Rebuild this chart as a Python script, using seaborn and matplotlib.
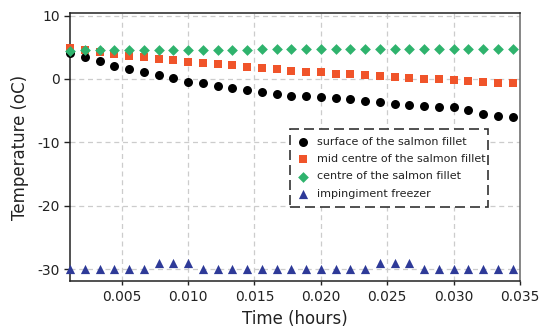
import numpy as np
import pandas as pd
import matplotlib
matplotlib.use("Agg")
import matplotlib.pyplot as plt
from matplotlib.patches import Rectangle
import seaborn as sns

# Sampling every 4 s, expressed in hours
time_h = [n * 4 / 3600 for n in range(1, 32)]

surface = [4.1, 3.4, 2.8, 2.05, 1.6, 1.1, 0.6, 0.1, -0.4, -0.7, -1.1, -1.4,
           -1.7, -2.05, -2.4, -2.7, -2.7, -2.9, -3.05, -3.2, -3.4, -3.7,
           -3.95, -4.1, -4.25, -4.4, -4.4, -4.9, -5.6, -5.85, -6.0]
mid_centre = [4.9, 4.6, 4.3, 4.0, 3.6, 3.5, 3.15, 2.95, 2.7, 2.5, 2.3, 2.15,
              1.95, 1.7, 1.5, 1.3, 1.15, 1.05, 0.85, 0.8, 0.65, 0.5, 0.3,
              0.1, 0.0, 0.0, -0.15, -0.3, -0.5, -0.7, -0.65]
centre = [4.4, 4.55, 4.6, 4.6, 4.6, 4.6, 4.6, 4.6, 4.6, 4.6, 4.6, 4.6, 4.6,
          4.75, 4.8, 4.8, 4.8, 4.8, 4.8, 4.8, 4.8, 4.8, 4.8, 4.8, 4.8, 4.8,
          4.8, 4.8, 4.8, 4.8, 4.8]
freezer = [-30, -30, -30, -30, -30, -30, -29, -29, -29, -30, -30, -30, -30,
           -30, -30, -30, -30, -30, -30, -30, -30, -29, -29, -29, -30, -30,
           -30, -30, -30, -30, -30]

labels = ["surface of the salmon fillet", "mid centre of the salmon fillet",
          "centre of the salmon fillet", "impingiment freezer"]
series = [surface, mid_centre, centre, freezer]
colors = ["#000000", "#f0542a", "#2fb36d", "#2e3a98"]
markers = ["o", "s", "D", "^"]
sizes = [42, 34, 30, 44]

df = pd.DataFrame({
    "time": np.tile(time_h, len(series)),
    "temp": np.concatenate(series),
    "location": np.repeat(labels, len(time_h)),
})

sns.set_style("white")
plt.rcParams["font.family"] = ["DejaVu Sans"]

fig = plt.figure(figsize=(5.41, 3.30), dpi=100)
ax = fig.add_axes([70 / 541, 1 - 281 / 330, 450 / 541, 268 / 330])

for lab, col, mk, sz in zip(labels, colors, markers, sizes):
    sub = df[df["location"] == lab]
    sns.scatterplot(data=sub, x="time", y="temp", ax=ax, color=col, marker=mk,
                    s=sz, linewidth=0, label=lab, clip_on=False, zorder=3)

ax.set_xlim(0.00111, 0.035)
ax.set_ylim(-31.85, 10.4)
ax.set_xticks([0.005, 0.010, 0.015, 0.020, 0.025, 0.030, 0.035])
ax.set_xticklabels(["0.005", "0.010", "0.015", "0.020", "0.025", "0.030", "0.035"])
ax.set_yticks([-30, -20, -10, 0, 10])
ax.set_yticklabels(["-30", "-20", "-10", "0", "10"])
ax.tick_params(axis="both", labelsize=10, colors="#222222")
ax.tick_params(axis="y", left=True, length=4, width=1)
ax.tick_params(axis="x", bottom=True, length=3, width=1)

ax.grid(True, color="#cccccc", linestyle=(0, (4, 3)), linewidth=0.9)
ax.set_axisbelow(True)

for side in ["left", "bottom", "top"]:
    ax.spines[side].set_color("#222222")
    ax.spines[side].set_linewidth(1.1)
ax.spines["right"].set_color("#666666")
ax.spines["right"].set_linewidth(1.1)

ax.set_xlabel("Time (hours)", fontsize=12, color="#222222", labelpad=4)
ax.set_ylabel("Temperature (oC)", fontsize=12, color="#222222", labelpad=6)

# Legend entries without their own frame; a dashed box is drawn around them
leg = ax.legend(loc="upper left", bbox_to_anchor=(0.498, 0.538), fontsize=8,
                frameon=False, borderpad=0, labelspacing=0.66,
                handletextpad=0.46, handlelength=1.6, borderaxespad=0)
for t in leg.get_texts():
    t.set_color("#222222")

box = Rectangle((0.4889, 0.276), 0.44, 0.291, transform=ax.transAxes,
                fill=True, facecolor="white", edgecolor="#333333",
                linestyle=(0, (6, 3)), linewidth=1.2, zorder=4)
ax.add_patch(box)
leg.set_zorder(5)

fig.savefig("out.png", dpi=100)
